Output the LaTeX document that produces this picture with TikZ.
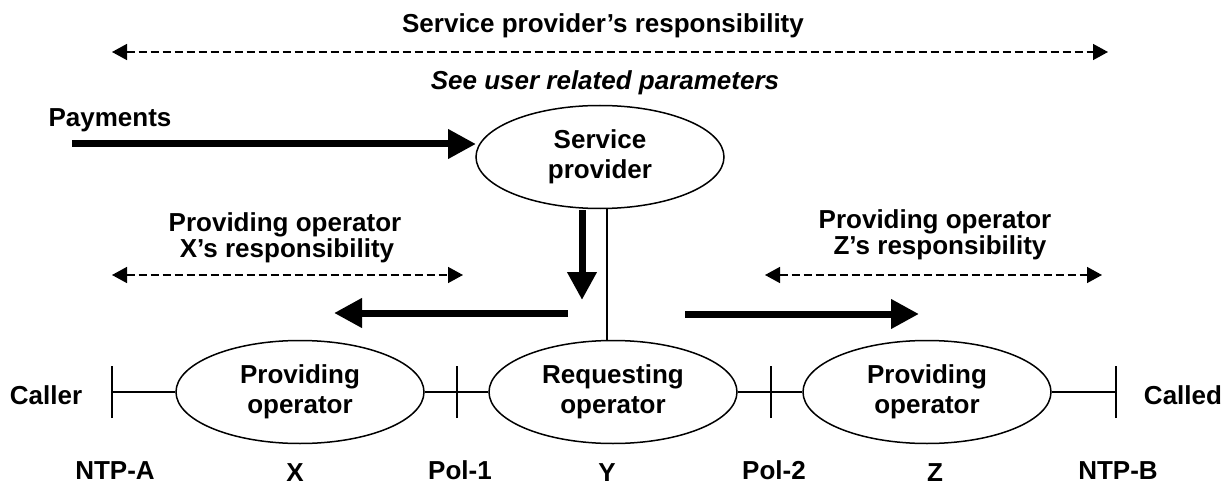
\documentclass[tikz,border=0pt]{standalone}
\usepackage{fontspec}
\setmainfont{Liberation Sans}
\usetikzlibrary{arrows.meta,shapes.geometric}
\begin{document}
\begin{tikzpicture}[x=1pt,y=-1pt,
  lbl/.style={font=\fontsize{26}{26}\selectfont\bfseries, inner sep=0pt, anchor=base},
  oper/.style={draw, line width=1.5pt, ellipse, minimum width=248pt, minimum height=103pt,
    inner sep=0pt, align=center, font=\fontsize{26}{30}\selectfont\bfseries},
  wire/.style={line width=1.5pt},
  heavy/.style={line width=7pt, -{Triangle[length=28pt,width=28pt]}},
  span/.style={line width=1.5pt, dash pattern=on 8pt off 4pt,
    {Triangle[length=15pt,width=16pt]}-{Triangle[length=15pt,width=16pt]}}]

\useasboundingbox (0,0) rectangle (1227,484);

% operators and the service provider
\node[oper] (sp) at (600,157) {Service\\provider};
\node[oper] (ox) at (300,392) {Providing\\operator};
\node[oper] (oy) at (613,392) {Requesting\\operator};
\node[oper] (oz) at (927,392) {Providing\\operator};

% interface points on the call path
\coordinate (ntpa) at (112,392);
\coordinate (pol1) at (457,392);
\coordinate (pol2) at (771,392);
\coordinate (ntpb) at (1116,392);

\draw[wire] (ntpa) -- (ox.west);
\draw[wire] (ox.east) -- (oy.west);
\draw[wire] (oy.east) -- (oz.west);
\draw[wire] (oz.east) -- (ntpb);
\foreach \t in {ntpa,pol1,pol2,ntpb}
  \draw[wire] ([yshift=-26pt]\t) -- ([yshift=26pt]\t);

% link between service provider and requesting operator
\coordinate (vx) at (607,0);
\draw[wire] (sp.south -| vx) -- (oy.north -| vx);

% payment flows
\coordinate (payA) at (72,144);
\coordinate (payB) at (476,144);
\coordinate (dnA) at (582,210);
\coordinate (dnB) at (582,300);
\coordinate (lfA) at (568,313);
\coordinate (lfB) at (334,313);
\coordinate (rtA) at (685,314);
\coordinate (rtB) at (919,314);
\draw[heavy] (payA) -- (payB);
\draw[heavy] (dnA) -- (dnB);
\draw[heavy] (lfA) -- (lfB);
\draw[heavy] (rtA) -- (rtB);

% responsibility spans
\coordinate (sA) at (112,52);
\coordinate (sB) at (1108,52);
\coordinate (xA) at (112,275);
\coordinate (xB) at (463,275);
\coordinate (zA) at (765,275);
\coordinate (zB) at (1102,275);
\draw[span] (sA) -- (sB);
\draw[span] (xA) -- (xB);
\draw[span] (zA) -- (zB);

% labels
\node[lbl] (t1) at (603,33) {Service provider’s responsibility};
\node[lbl, font=\fontsize{26}{26}\selectfont\bfseries\itshape] (t2) at (605,90) {See user related parameters};
\node[lbl] (pay) at (110,127) {Payments};
\node[lbl] (xr1) at (285,232) {Providing operator};
\node[lbl] (xr2) at (287,257) {X’s responsibility};
\node[lbl] (zr1) at (935,229) {Providing operator};
\node[lbl] (zr2) at (940,254) {Z’s responsibility};
\node[lbl] (caller) at (46,404) {Caller};
\node[lbl] (called) at (1183,404) {Called};
\node[lbl] (lntpa) at (115,479) {NTP-A};
\node[lbl] (lx) at (295,481) {X};
\node[lbl] (lpol1) at (460,479) {Pol-1};
\node[lbl] (ly) at (607,481) {Y};
\node[lbl] (lpol2) at (774,479) {Pol-2};
\node[lbl] (lz) at (935,481) {Z};
\node[lbl] (lntpb) at (1118,479) {NTP-B};
\end{tikzpicture}
\end{document}
